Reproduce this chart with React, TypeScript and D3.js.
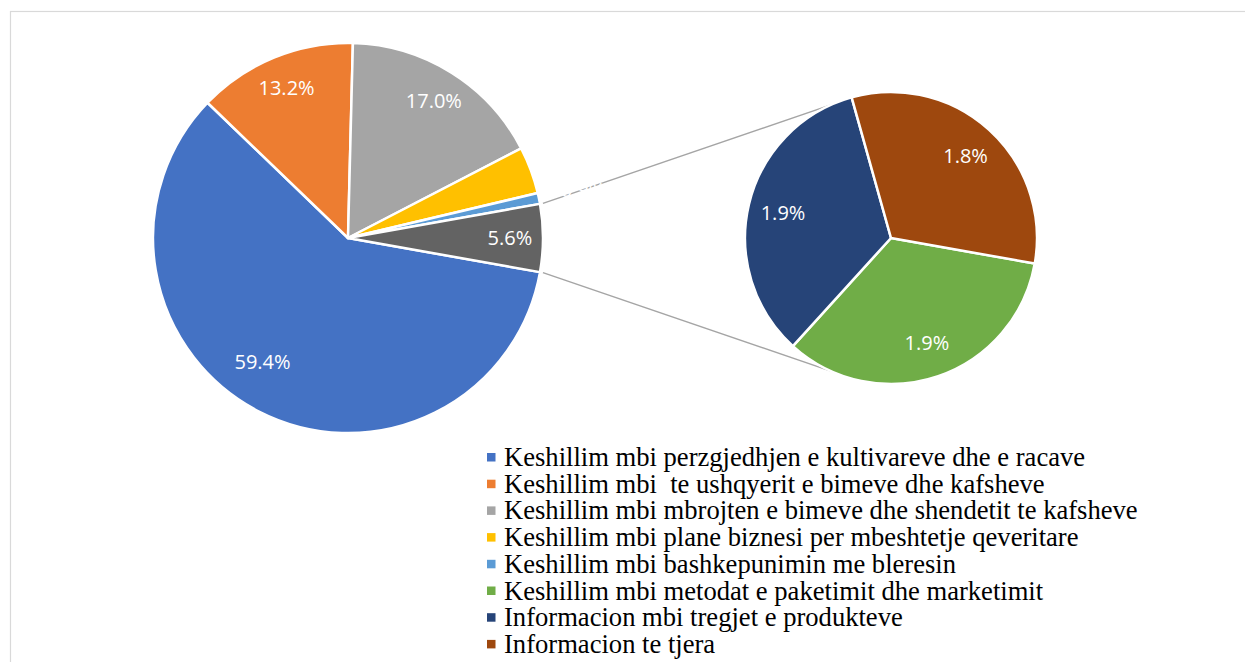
import React from "react";
import * as d3 from "d3";

const categories = [
  "Keshillim mbi perzgjedhjen e kultivareve dhe e racave",
  "Keshillim mbi  te ushqyerit e bimeve dhe kafsheve",
  "Keshillim mbi mbrojten e bimeve dhe shendetit te kafsheve",
  "Keshillim mbi plane biznesi per mbeshtetje qeveritare",
  "Keshillim mbi bashkepunimin me bleresin",
  "Keshillim mbi metodat e paketimit dhe marketimit",
  "Informacion mbi tregjet e produkteve",
  "Informacion te tjera",
];
const values = [59.4, 13.2, 17.0, 3.9, 0.9, 1.9, 1.9, 1.8];
const colors = ["#4472C4", "#ED7D31", "#A5A5A5", "#FFC000", "#5B9BD5", "#70AD47", "#264478", "#9E480E"];
const otherColor = "#636363";
const splitIndex = 5; // items from this index go to the secondary pie

const W = 1245;
const H = 662;
const main = { cx: 348, cy: 238, r: 195 };
const sec = { cx: 891, cy: 238, r: 146 };

type Slice = { value: number; color: string; key: string; outside?: boolean };

export default function App() {
  const primaryValues = values.slice(0, splitIndex);
  const secondaryValues = values.slice(splitIndex);
  const otherValue = +d3.sum(secondaryValues).toFixed(1);
  const total = d3.sum(primaryValues) + otherValue;

  const mainData: Slice[] = [
    ...primaryValues.map((v, i) => ({ value: v, color: colors[i], key: categories[i], outside: v < 5 })),
    { value: otherValue, color: otherColor, key: "other" },
  ];
  const otherAngle = (2 * Math.PI * otherValue) / total;
  const start = Math.PI / 2 + otherAngle / 2;

  const pieMain = d3
    .pie<Slice>()
    .sort(null)
    .value((d) => d.value)
    .startAngle(start)
    .endAngle(start + 2 * Math.PI);
  const mainArcs = pieMain(mainData);

  const secData: Slice[] = secondaryValues.map((v, i) => ({
    value: v,
    color: colors[splitIndex + i],
    key: categories[splitIndex + i],
  }));
  const pieSec = d3
    .pie<Slice>()
    .sort(null)
    .value((d) => d.value)
    .startAngle(start)
    .endAngle(start + 2 * Math.PI);
  const secArcs = pieSec(secData);

  const arcMain = d3.arc<d3.PieArcDatum<Slice>>().innerRadius(0).outerRadius(main.r);
  const arcSec = d3.arc<d3.PieArcDatum<Slice>>().innerRadius(0).outerRadius(sec.r);

  const pt = (cx: number, cy: number, r: number, a: number) => [cx + r * Math.sin(a), cy - r * Math.cos(a)];

  const otherArc = mainArcs[mainArcs.length - 1];
  const connAngle = (24 * Math.PI) / 180;
  const p1 = pt(main.cx, main.cy, main.r + 3, otherArc.startAngle);
  const p2 = pt(main.cx, main.cy, main.r + 3, otherArc.endAngle);
  const q1 = pt(sec.cx, sec.cy, sec.r, -connAngle);
  const q2 = pt(sec.cx, sec.cy, sec.r, Math.PI + connAngle);

  const fmt = (v: number) => v.toFixed(1) + "%";
  const labelFont = "'Open Sans', 'Noto Sans', sans-serif";

  const legendX = 487;
  const legendY0 = 466;
  const legendStep = 26.7;

  return (
    <svg width={W} height={H} style={{ position: "absolute", left: 0, top: 0, background: "#fff" }}>
      <rect x={10.5} y={11.5} width={W + 10} height={H + 10} fill="#fff" stroke="#d9d9d9" strokeWidth={1.2} />

      {/* connector lines */}
      <line x1={p1[0]} y1={p1[1]} x2={q1[0]} y2={q1[1]} stroke="#a5a5a5" strokeWidth={1.5} />
      <line x1={p2[0]} y1={p2[1]} x2={q2[0]} y2={q2[1]} stroke="#a5a5a5" strokeWidth={1.5} />

      <g transform={`translate(${main.cx},${main.cy})`}>
        {mainArcs.map((a, i) => (
          <path key={i} d={arcMain(a) || ""} fill={a.data.color} stroke="#fff" strokeWidth={2.5} strokeLinejoin="round" />
        ))}
        {mainArcs.map((a, i) => {
          const mid = (a.startAngle + a.endAngle) / 2;
          const big = a.data.value > 50;
          const rr = a.data.outside ? main.r + 45 : big ? main.r * 0.77 : main.r * 0.83;
          const ang = big ? mid + (7.7 * Math.PI) / 180 : mid;
          const [x, y] = pt(0, 0, rr, ang);
          return (
            <text key={"l" + i} x={x} y={y} dy="0.36em" textAnchor="middle" fill="#fff" fontFamily={labelFont} fontSize={20}>
              {fmt(a.data.value)}
            </text>
          );
        })}
      </g>

      <g transform={`translate(${sec.cx},${sec.cy})`}>
        {secArcs.map((a, i) => (
          <path key={i} d={arcSec(a) || ""} fill={a.data.color} stroke="#fff" strokeWidth={2.5} strokeLinejoin="round" />
        ))}
        {secArcs.map((a, i) => {
          const mid = (a.startAngle + a.endAngle) / 2;
          const [x, y] = pt(0, 0, sec.r * 0.76, mid);
          return (
            <text key={"l" + i} x={x} y={y} dy="0.36em" textAnchor="middle" fill="#fff" fontFamily={labelFont} fontSize={20}>
              {fmt(a.data.value)}
            </text>
          );
        })}
      </g>

      <g>
        {categories.map((c, i) => {
          const y = legendY0 + i * legendStep;
          return (
            <g key={c}>
              <rect x={legendX} y={y - 13} width={8.5} height={8.5} fill={colors[i]} />
              <text x={legendX + 17} y={y} fontFamily="Liberation Serif, Times New Roman, serif" fontSize={26.6} fill="#000" style={{ whiteSpace: "pre" }}>
                {c}
              </text>
            </g>
          );
        })}
      </g>
    </svg>
  );
}
